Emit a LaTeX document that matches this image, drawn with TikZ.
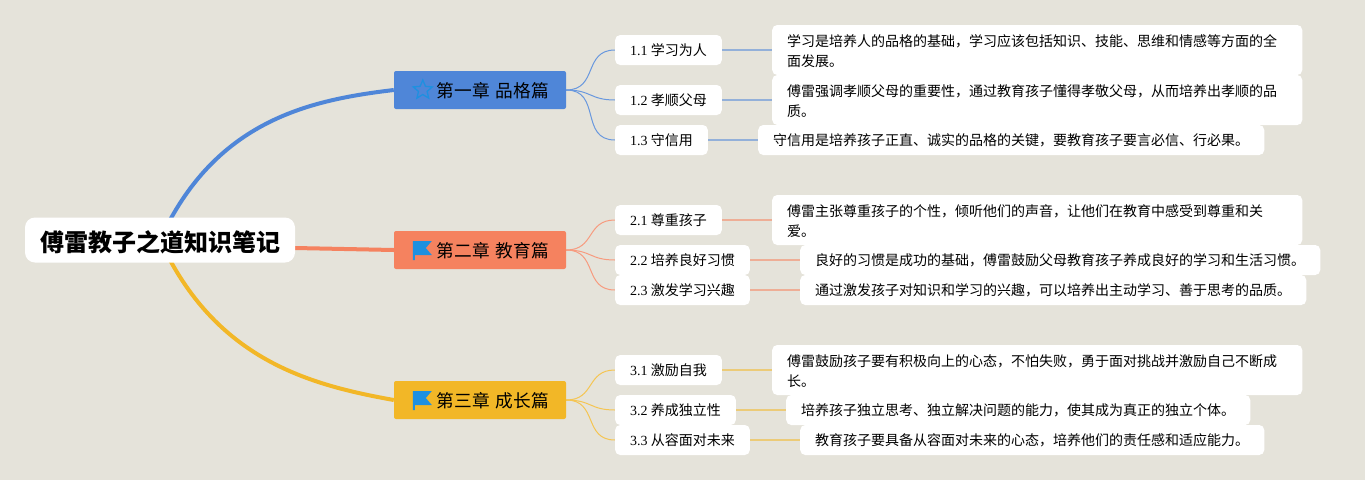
\documentclass[tikz,border=0pt]{standalone}
\usepackage{fontspec}
\setmainfont{Noto Sans CJK SC}
\newfontfamily\numfont{Liberation Serif}
\usetikzlibrary{shapes.geometric, positioning, calc, backgrounds}
\definecolor{paper}{HTML}{E5E3DA}
\definecolor{bluebr}{HTML}{4F86D8}
\definecolor{orangebr}{HTML}{F5825F}
\definecolor{yellowbr}{HTML}{F2B727}
\definecolor{iconblue}{HTML}{1E90E0}
\newcommand{\secno}[1]{{\numfont #1} }
\tikzset{
    rootbox/.style={
        rectangle,
        fill=white,
        rounded corners=10pt,
        minimum width=270pt,
        minimum height=45pt,
        text height=23pt,
        text depth=0.8pt,
        inner sep=0pt,
        font=\fontsize{24}{28}\selectfont\bfseries
    },
    chapter/.style={
        rectangle,
        rounded corners=2pt,
        minimum height=38pt,
        text height=16.5pt,
        text depth=1.1pt,
        text width=138pt,
        inner xsep=17pt,
        inner ysep=0pt,
        align=right,
        font=\fontsize{17.7}{20}\selectfont
    },
    subbox/.style={
        rectangle,
        fill=white,
        rounded corners=5pt,
        minimum height=30pt,
        text height=13pt,
        text depth=2pt,
        inner xsep=15pt,
        inner ysep=0pt,
        anchor=west,
        font=\fontsize{14}{20}\selectfont
    },
    leafbox/.style={
        rectangle,
        fill=white,
        rounded corners=5pt,
        minimum height=30pt,
        text height=13pt,
        text depth=2pt,
        inner xsep=15pt,
        inner ysep=0pt,
        font=\fontsize{14}{20}\selectfont
    },
    leaftwo/.style={
        leafbox,
        minimum height=50pt,
        text height=13pt,
        text depth=20.4pt,
        text width=500pt,
        align=left
    },
    trunk/.style={line width=4pt},
    twig/.style={line width=1pt, looseness=1.3},
    stem/.style={line width=2pt},
    pics/flagicon/.style={
        code={
            \fill[iconblue] (-10,-9) -- (9,-9) -- (3,-2) -- (9,5) -- (-8,5) -- (-8,10) -- (-10,10) -- cycle;
        }
    }
}
\begin{document}
\begin{tikzpicture}[x=1pt, y=-1pt, node distance=50pt]

\useasboundingbox (0,0) rectangle (1365,480);

% Root
\node[rootbox] (root) at (160,240) {傅雷教子之道知识笔记};

% Chapters
\node[chapter, fill=bluebr] (ch1) at (480,90) {第一章 品格篇};
\node[chapter, fill=orangebr] (ch2) at (480,250) {第二章 教育篇};
\node[chapter, fill=yellowbr] (ch3) at (480,400) {第三章 成长篇};

% Icons
\node[star, star points=5, star point ratio=2.2, draw=iconblue, line width=1.3pt, minimum size=20pt, inner sep=0pt] (icon1) at ($(ch1.west)+(29,0)$) {};
\pic at ($(ch2.west)+(29,0)$) {flagicon};
\pic at ($(ch3.west)+(29,0)$) {flagicon};

% Sections of chapter 1
\node[subbox] (s11) at (615,50) {\secno{1.1}学习为人};
\node[subbox] (s12) at (615,100) {\secno{1.2}孝顺父母};
\node[subbox] (s13) at (615,140) {\secno{1.3}守信用};

% Sections of chapter 2
\node[subbox] (s21) at (615,220) {\secno{2.1}尊重孩子};
\node[subbox] (s22) at (615,260) {\secno{2.2}培养良好习惯};
\node[subbox] (s23) at (615,290) {\secno{2.3}激发学习兴趣};

% Sections of chapter 3
\node[subbox] (s31) at (615,370) {\secno{3.1}激励自我};
\node[subbox] (s32) at (615,410) {\secno{3.2}养成独立性};
\node[subbox] (s33) at (615,440) {\secno{3.3}从容面对未来};

% Leaves
\node[leaftwo, right=of s11] (t11) {学习是培养人的品格的基础，学习应该包括知识、技能、思维和情感等方面的全\\面发展。};
\node[leaftwo, right=of s12] (t12) {傅雷强调孝顺父母的重要性，通过教育孩子懂得孝敬父母，从而培养出孝顺的品\\质。};
\node[leafbox, right=of s13] (t13) {守信用是培养孩子正直、诚实的品格的关键，要教育孩子要言必信、行必果。};
\node[leaftwo, right=of s21] (t21) {傅雷主张尊重孩子的个性，倾听他们的声音，让他们在教育中感受到尊重和关\\爱。};
\node[leafbox, right=of s22] (t22) {良好的习惯是成功的基础，傅雷鼓励父母教育孩子养成良好的学习和生活习惯。};
\node[leafbox, right=of s23] (t23) {通过激发孩子对知识和学习的兴趣，可以培养出主动学习、善于思考的品质。};
\node[leaftwo, right=of s31] (t31) {傅雷鼓励孩子要有积极向上的心态，不怕失败，勇于面对挑战并激励自己不断成\\长。};
\node[leafbox, right=of s32] (t32) {培养孩子独立思考、独立解决问题的能力，使其成为真正的独立个体。};
\node[leafbox, right=of s33] (t33) {教育孩子要具备从容面对未来的心态，培养他们的责任感和适应能力。};

\begin{scope}[on background layer]
\fill[paper] (0,0) rectangle (1365,480);

% Trunks
\draw[trunk, bluebr] (root.center) .. controls (215,120) and (310,100) .. (ch1.west);
\draw[trunk, orangebr] ($(root.east)+(0,8)$) -- (ch2.west);
\draw[trunk, yellowbr] (root.center) .. controls (215,360) and (310,385) .. (ch3.west);

% Twigs
\draw[twig, bluebr!85] (ch1.east) to[out=0, in=180] (s11.west);
\draw[twig, bluebr!85] (ch1.east) to[out=0, in=180] (s12.west);
\draw[twig, bluebr!85] (ch1.east) to[out=0, in=180] (s13.west);
\draw[twig, orangebr!80] (ch2.east) to[out=0, in=180] (s21.west);
\draw[twig, orangebr!80] (ch2.east) to[out=0, in=180] (s22.west);
\draw[twig, orangebr!80] (ch2.east) to[out=0, in=180] (s23.west);
\draw[twig, yellowbr!80] (ch3.east) to[out=0, in=180] (s31.west);
\draw[twig, yellowbr!80] (ch3.east) to[out=0, in=180] (s32.west);
\draw[twig, yellowbr!80] (ch3.east) to[out=0, in=180] (s33.west);

% Stems
\draw[stem, bluebr!55!paper] (s11) -- (t11);
\draw[stem, bluebr!55!paper] (s12) -- (t12);
\draw[stem, bluebr!55!paper] (s13) -- (t13);
\draw[stem, orangebr!55!paper] (s21) -- (t21);
\draw[stem, orangebr!55!paper] (s22) -- (t22);
\draw[stem, orangebr!55!paper] (s23) -- (t23);
\draw[stem, yellowbr!55!paper] (s31) -- (t31);
\draw[stem, yellowbr!55!paper] (s32) -- (t32);
\draw[stem, yellowbr!55!paper] (s33) -- (t33);
\end{scope}

\end{tikzpicture}
\end{document}
